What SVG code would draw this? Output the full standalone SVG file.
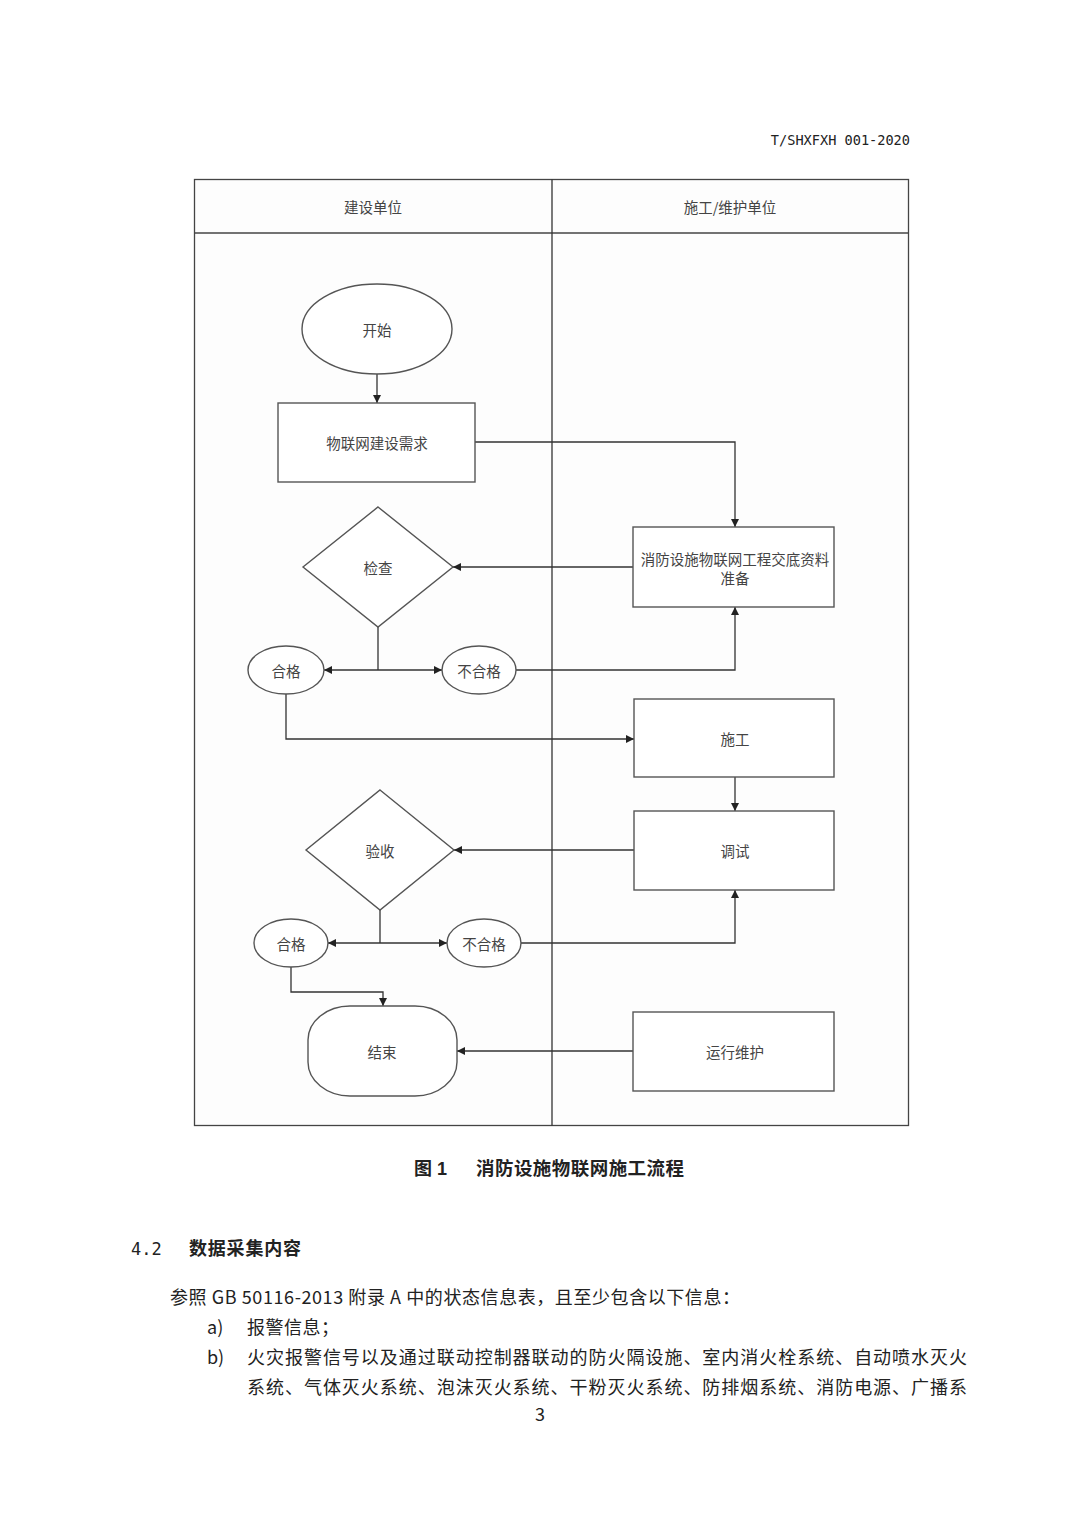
<svg xmlns="http://www.w3.org/2000/svg" width="1080" height="1526" viewBox="0 0 1080 1526">
<style>
.ln{fill:none;stroke:#333;stroke-width:1.3}
.sh{fill:#fff;stroke:#555;stroke-width:1.4}
.lb{font-family:"Noto Sans CJK SC","Liberation Sans",sans-serif;font-size:14.5px;fill:#444;text-anchor:middle;dominant-baseline:central}
.body{font-family:"Noto Sans CJK SC","Liberation Serif",serif;font-size:18px;fill:#222}
</style>
<defs>
<marker id="ah" viewBox="0 0 10 10" refX="10" refY="5" markerWidth="9" markerHeight="8" markerUnits="userSpaceOnUse" orient="auto">
<path d="M0,0 L10,5 L0,10 z" fill="#222"/>
</marker>
</defs>
<rect x="0" y="0" width="1080" height="1526" fill="#fff"/>
<text x="910" y="145" font-family="DejaVu Sans Mono,monospace" font-size="13.6" fill="#222" text-anchor="end">T/SHXFXH 001-2020</text>
<g id="frame">
<rect x="194.5" y="179.5" width="714" height="946" fill="#fdfdfd" stroke="#444" stroke-width="1.3"/>
<line x1="194.5" y1="233" x2="908.5" y2="233" stroke="#444" stroke-width="1.5"/>
<line x1="552" y1="179.5" x2="552" y2="1125.5" stroke="#333" stroke-width="1.3"/>
<text class="lb" x="373" y="206" font-size="15">建设单位</text>
<text class="lb" x="730" y="206" font-size="15">施工/维护单位</text>
</g>
<g id="connectors">
<line class="ln" x1="377" y1="374" x2="377" y2="403" marker-end="url(#ah)"/>
<polyline class="ln" points="475,442 735,442 735,527" marker-end="url(#ah)"/>
<line class="ln" x1="633" y1="567" x2="453" y2="567" marker-end="url(#ah)"/>
<line class="ln" x1="378" y1="627" x2="378" y2="670"/>
<line class="ln" x1="378" y1="670" x2="324" y2="670" marker-end="url(#ah)"/>
<line class="ln" x1="378" y1="670" x2="442" y2="670" marker-end="url(#ah)"/>
<polyline class="ln" points="516,670 735,670 735,607" marker-end="url(#ah)"/>
<polyline class="ln" points="286,694 286,739 634,739" marker-end="url(#ah)"/>
<line class="ln" x1="735" y1="777" x2="735" y2="811" marker-end="url(#ah)"/>
<line class="ln" x1="634" y1="850" x2="454" y2="850" marker-end="url(#ah)"/>
<line class="ln" x1="380" y1="910" x2="380" y2="943"/>
<line class="ln" x1="380" y1="943" x2="328" y2="943" marker-end="url(#ah)"/>
<line class="ln" x1="380" y1="943" x2="447" y2="943" marker-end="url(#ah)"/>
<polyline class="ln" points="521,943 735,943 735,890" marker-end="url(#ah)"/>
<polyline class="ln" points="291,967 291,992 383,992 383,1006" marker-end="url(#ah)"/>
<line class="ln" x1="633" y1="1051" x2="457" y2="1051" marker-end="url(#ah)"/>
</g>
<g id="start"><ellipse class="sh" cx="377" cy="329" rx="75" ry="45"/><text class="lb" x="377" y="329">开始</text></g>
<g id="demand"><rect class="sh" x="278" y="403" width="197" height="79"/><text class="lb" x="377" y="442">物联网建设需求</text></g>
<g id="prep"><rect class="sh" x="633" y="527" width="201" height="80"/><text class="lb" x="735" y="558">消防设施物联网工程交底资料</text><text class="lb" x="735" y="577">准备</text></g>
<g id="check"><polygon class="sh" points="378,507 453,567 378,627 303,567"/><text class="lb" x="378" y="567">检查</text></g>
<g id="pass1"><ellipse class="sh" cx="286" cy="670" rx="38" ry="24"/><text class="lb" x="286" y="670">合格</text></g>
<g id="fail1"><ellipse class="sh" cx="479" cy="670" rx="37" ry="24"/><text class="lb" x="479" y="670">不合格</text></g>
<g id="build"><rect class="sh" x="634" y="699" width="200" height="78"/><text class="lb" x="735" y="738">施工</text></g>
<g id="debug"><rect class="sh" x="634" y="811" width="200" height="79"/><text class="lb" x="735" y="850">调试</text></g>
<g id="accept"><polygon class="sh" points="380,790 454,850 380,910 306,850"/><text class="lb" x="380" y="850">验收</text></g>
<g id="pass2"><ellipse class="sh" cx="291" cy="943" rx="37" ry="24"/><text class="lb" x="291" y="943">合格</text></g>
<g id="fail2"><ellipse class="sh" cx="484" cy="943" rx="37" ry="24"/><text class="lb" x="484" y="943">不合格</text></g>
<g id="end"><rect class="sh" x="308" y="1006" width="149" height="90" rx="42" ry="34"/><text class="lb" x="382" y="1051">结束</text></g>
<g id="maint"><rect class="sh" x="633" y="1012" width="201" height="79"/><text class="lb" x="735" y="1051">运行维护</text></g>
<g id="caption">
<text x="414" y="1175" font-family="Liberation Sans,'Noto Sans CJK SC',sans-serif" font-size="18" font-weight="bold" fill="#222">图 1</text>
<text x="476" y="1175" font-family="'Noto Sans CJK SC',sans-serif" font-size="18.5" font-weight="bold" fill="#222" textLength="208">消防设施物联网施工流程</text>
</g>
<g id="text">
<text x="131" y="1255" font-family="DejaVu Sans Mono,monospace" font-size="17" fill="#222">4.2</text>
<text x="189" y="1255" font-family="'Noto Sans CJK SC',sans-serif" font-size="18" font-weight="bold" fill="#222" textLength="112">数据采集内容</text>
<text class="body" x="170" y="1304" textLength="570">参照 GB 50116-2013 附录 A 中的状态信息表，且至少包含以下信息：</text>
<text class="body" x="207" y="1334">a)</text>
<text class="body" x="247" y="1334" textLength="92">报警信息；</text>
<text class="body" x="207" y="1364">b)</text>
<text class="body" x="247" y="1364" textLength="720">火灾报警信号以及通过联动控制器联动的防火隔设施、室内消火栓系统、自动喷水灭火</text>
<text class="body" x="247" y="1394" textLength="720">系统、气体灭火系统、泡沫灭火系统、干粉灭火系统、防排烟系统、消防电源、广播系</text>
<text class="body" x="540" y="1421" text-anchor="middle" font-size="15">3</text>
</g>
</svg>
